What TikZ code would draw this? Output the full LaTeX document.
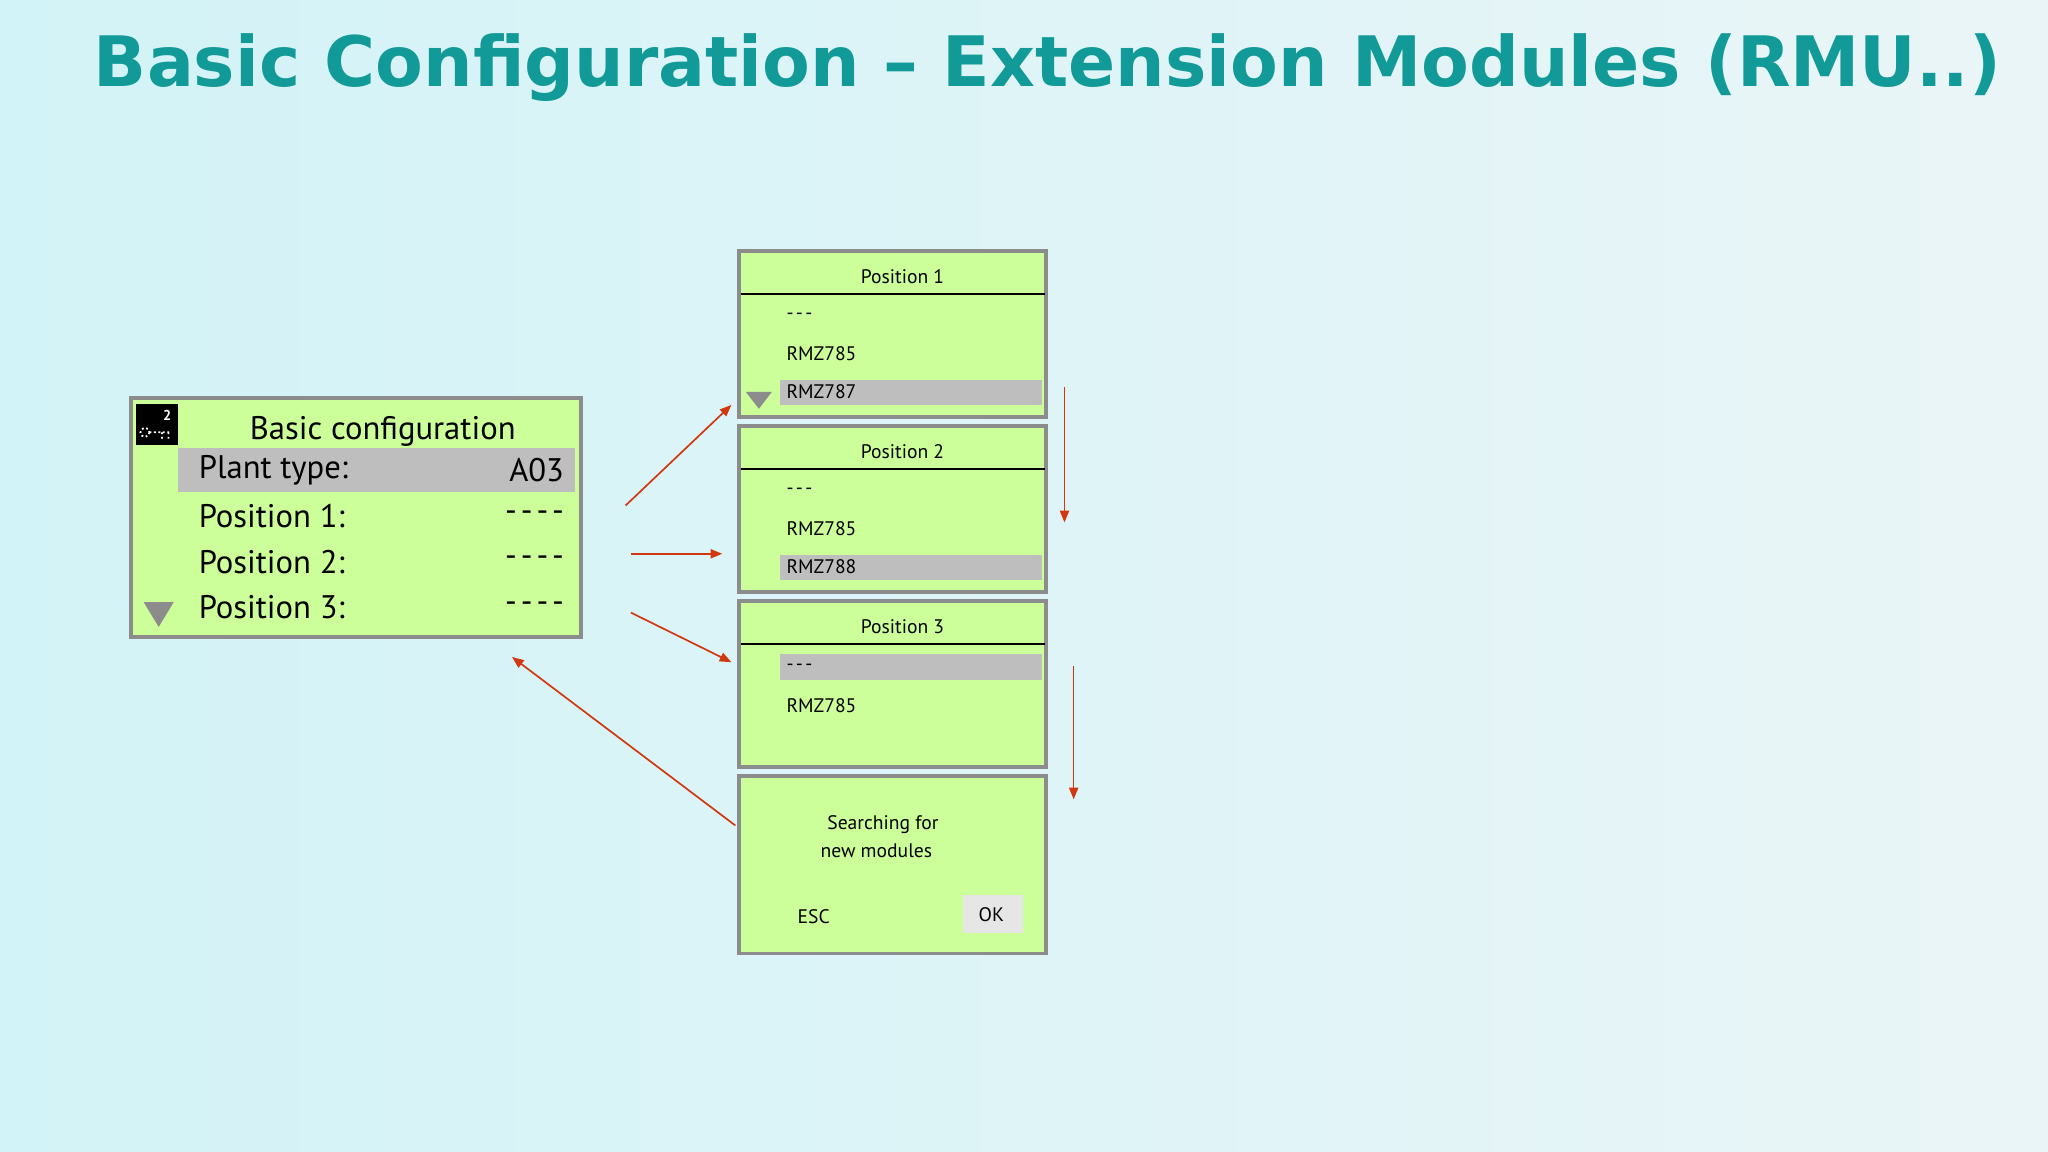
\documentclass[tikz,border=0pt]{standalone}
\usepackage{fontspec}
\setmainfont{PT Sans}
\newfontfamily\titlefont{DejaVu Sans}
\usetikzlibrary{arrows.meta}
\definecolor{lcd}{HTML}{CCFF99}
\definecolor{frame}{HTML}{8C8C8C}
\definecolor{sel}{HTML}{BEBEBE}
\definecolor{teal}{HTML}{119A97}
\definecolor{arr}{HTML}{D2380F}
\definecolor{bgA}{HTML}{D2F3F7}
\definecolor{bgB}{HTML}{EAF5F7}
\definecolor{okbg}{HTML}{E6E6E6}
\tikzset{
 panel/.style={fill=lcd,draw=frame,line width=3pt},
 selbar/.style={fill=sel,draw=none},
 big/.style={font=\fontsize{25}{28}\selectfont,inner sep=0},
 small/.style={font=\fontsize{15}{17}\selectfont,inner sep=0},
 conn/.style={draw=arr,line width=1.3pt,-{Triangle[length=9pt,width=7pt]}},
 tri/.style={fill=frame,draw=none}
}
\newcommand{\dsh}[1]{\foreach \i in {1,...,#1}{-\kern0.12em}}
\begin{document}
\begin{tikzpicture}[x=1pt,y=-1pt]
\useasboundingbox (0,0) rectangle (1568,882);
\shade[left color=bgA,right color=bgB] (0,0) rectangle (1568,882);
\node[text=teal,anchor=center,inner sep=0] (title) at (802,52) {\resizebox{1460pt}{!}{\titlefont\bfseries\fontsize{60}{64}\selectfont Basic Configuration – Extension Modules (RMU..)}};
% left panel
\draw[panel] (100,305) rectangle (445,488);
\fill[black] (104,309) rectangle (136,341);
\draw[white,line width=1.4pt,dotted] (111,331) circle (3.5) (114.5,331) -- (131,331) (124,331) -- (124,337) (129,331) -- (129,337);
\node[text=white,font=\fontsize{11}{11}\selectfont\bfseries,inner sep=0] (ico) at (128,318) {2};
\fill[selbar] (136,343) rectangle (440,377);
\node[big] (bc) at (293,330) {Basic configuration};
\node[big,anchor=west] (pt) at (152,360) {Plant type:};
\node[big,anchor=east] (ptv) at (432,360) {A03};
\node[big,anchor=west] (p1) at (152,395) {Position 1:};
\node[big,anchor=east] (p1v) at (435,395) {\dsh{4}};
\node[big,anchor=west] (p2) at (152,430) {Position 2:};
\node[big,anchor=east] (p2v) at (435,430) {\dsh{4}};
\node[big,anchor=west] (p3) at (152,465) {Position 3:};
\node[big,anchor=east] (p3v) at (435,465) {\dsh{4}};
\fill[tri] (110,461) -- (133,461) -- (121.5,480) -- cycle;
% position boxes
\foreach \n/\t in {1/192,2/326,3/460}{
  \draw[panel] (566,\t) rectangle (801,\t+127);
  \draw[black,line width=1pt] (567,\t+33) -- (800,\t+33);
  \node[small] (h\n) at (691,\t+20) {Position \n};
}
\fill[selbar] (597,291) rectangle (798,310);
\node[small,anchor=west] (a1) at (602,242) {\dsh{3}};
\node[small,anchor=west] (a2) at (602,271) {RMZ785};
\node[small,anchor=west] (a3) at (602,300) {RMZ787};
\fill[tri] (571,300) -- (591,300) -- (581,313) -- cycle;
\fill[selbar] (597,425) rectangle (798,444);
\node[small,anchor=west] (b1) at (602,376) {\dsh{3}};
\node[small,anchor=west] (b2) at (602,405) {RMZ785};
\node[small,anchor=west] (b3) at (602,434) {RMZ788};
\fill[selbar] (597,501) rectangle (798,521);
\node[small,anchor=west] (c1) at (602,511) {\dsh{3}};
\node[small,anchor=west] (c2) at (602,540) {RMZ785};
% search box
\draw[panel] (566,594) rectangle (801,730);
\node[small] (s1) at (676,631) {Searching for};
\node[small] (s2) at (671,651) {new modules};
\node[small] (esc) at (623,702) {ESC};
\fill[okbg] (737,685) rectangle (783,714);
\node[small] (ok) at (759,700) {OK};
% arrows
\coordinate (a0s) at (479,387); \coordinate (a0e) at (560,310);
\coordinate (b0s) at (483,424); \coordinate (b0e) at (553,424);
\coordinate (c0s) at (483,469); \coordinate (c0e) at (560,507);
\coordinate (d0s) at (563,632); \coordinate (d0e) at (392,503);
\coordinate (e0s) at (815,296); \coordinate (e0e) at (815,400);
\coordinate (f0s) at (822,510); \coordinate (f0e) at (822,612);
\draw[conn] (a0s) -- (a0e);
\draw[conn] (b0s) -- (b0e);
\draw[conn] (c0s) -- (c0e);
\draw[conn] (d0s) -- (d0e);
\draw[conn] (e0s) -- (e0e);
\draw[conn] (f0s) -- (f0e);
\end{tikzpicture}
\end{document}
